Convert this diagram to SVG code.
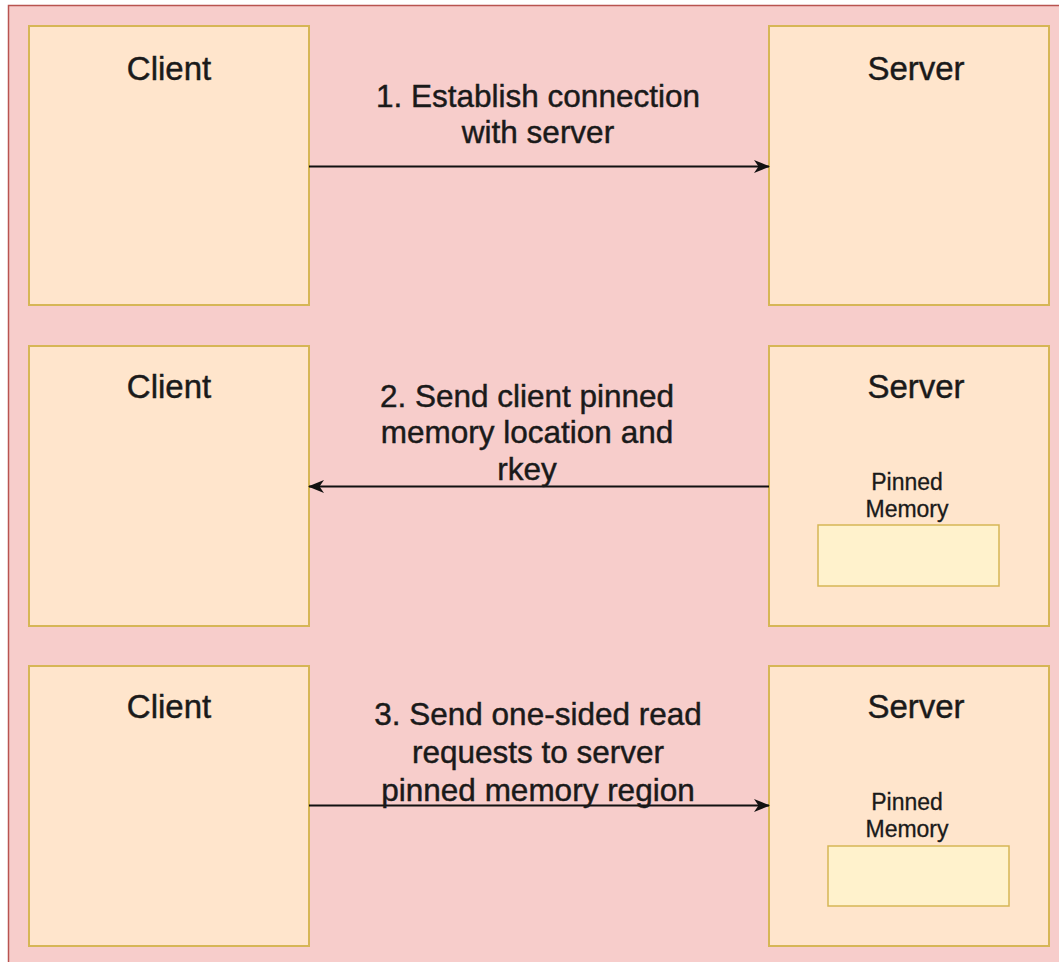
<svg xmlns="http://www.w3.org/2000/svg" width="1059" height="962" viewBox="0 0 1059 962">
  <style>
    .panel { fill: #f7cdcb; stroke: #b85450; stroke-width: 1.5; }
    .box { fill: #ffe5cc; stroke: #d6b656; stroke-width: 2; }
    .mem { fill: #fff2cc; stroke: #d6b656; stroke-width: 1.5; }
    text { font-family: "Liberation Sans", Arial, Helvetica, sans-serif; fill: #1a1a1a; stroke: #1a1a1a; stroke-width: 0.45; text-anchor: middle; }
    .title { font-size: 33px; }
    .label { font-size: 31.5px; }
    .small { font-size: 23px; stroke-width: 0.3; }
    .edge { fill: none; stroke: #111111; stroke-width: 2; }
  </style>
  <defs>
    <marker id="arrow" viewBox="0 0 16 13" refX="15" refY="6.5" markerWidth="16" markerHeight="13" markerUnits="userSpaceOnUse" orient="auto">
      <path d="M0,0 L16,6.5 L0,13 L4.5,6.5 Z" fill="#111111"/>
    </marker>
  </defs>

  <!-- background panel -->
  <rect class="panel" x="8.5" y="5.5" width="1070" height="980"/>

  <!-- step 1 -->
  <g id="client1">
    <rect class="box" x="29" y="26" width="280" height="279"/>
    <text class="title" x="169" y="80">Client</text>
  </g>
  <g id="server1">
    <rect class="box" x="769" y="26" width="280" height="279"/>
    <text class="title" x="916" y="80">Server</text>
  </g>

  <!-- step 2 -->
  <g id="client2">
    <rect class="box" x="29" y="346" width="280" height="280"/>
    <text class="title" x="169" y="398">Client</text>
  </g>
  <g id="server2">
    <rect class="box" x="769" y="346" width="280" height="280"/>
    <text class="title" x="916" y="398">Server</text>
    <text class="small" x="907" y="490">Pinned</text>
    <text class="small" x="907" y="517">Memory</text>
    <rect class="mem" x="818" y="525" width="181" height="61"/>
  </g>

  <!-- step 3 -->
  <g id="client3">
    <rect class="box" x="29" y="666" width="280" height="280"/>
    <text class="title" x="169" y="718">Client</text>
  </g>
  <g id="server3">
    <rect class="box" x="769" y="666" width="280" height="280"/>
    <text class="title" x="916" y="718">Server</text>
    <text class="small" x="907" y="810">Pinned</text>
    <text class="small" x="907" y="837">Memory</text>
    <rect class="mem" x="828" y="846" width="181" height="60"/>
  </g>

  <!-- connectors -->
  <g id="connectors">
    <path class="edge" d="M309,166.5 L769,166.5" marker-end="url(#arrow)"/>
    <path class="edge" d="M769,486.5 L309,486.5" marker-end="url(#arrow)"/>
    <path class="edge" d="M309,805.5 L769,805.5" marker-end="url(#arrow)"/>
  </g>

  <!-- connector labels -->
  <g id="label1">
    <text class="label" x="538" y="107">1. Establish connection</text>
    <text class="label" x="538" y="143">with server</text>
  </g>
  <g id="label2">
    <text class="label" x="527" y="407">2. Send client pinned</text>
    <text class="label" x="527" y="443">memory location and</text>
    <text class="label" x="527" y="480">rkey</text>
  </g>
  <g id="label3">
    <text class="label" x="538" y="725">3. Send one-sided read</text>
    <text class="label" x="538" y="763">requests to server</text>
    <text class="label" x="538" y="801">pinned memory region</text>
  </g>
</svg>
